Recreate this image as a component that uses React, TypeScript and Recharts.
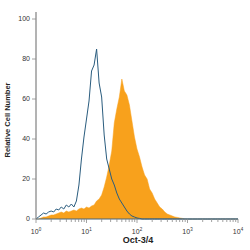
import React from "react";
import { ComposedChart, Area, Line, XAxis, YAxis } from "recharts";

// fluorescence bin centres (log spaced, 20 per decade)
const fluorescence = [
  1, 1.122, 1.259, 1.413, 1.585, 1.778, 1.995, 2.239, 2.512, 2.818, 3.162, 3.548, 3.981, 4.467, 5.012, 5.623, 6.31, 7.079, 7.943, 8.913,
  10, 11.22, 12.59, 14.13, 15.85, 17.78, 19.95, 22.39, 25.12, 28.18, 31.62, 35.48, 39.81, 44.67, 50.12, 56.23, 63.1, 70.79, 79.43, 89.13,
  100, 112.2, 125.9, 141.3, 158.5, 177.8, 199.5, 223.9, 251.2, 281.8, 316.2, 354.8, 398.1, 446.7, 501.2, 562.3, 631, 707.9, 794.3, 891.3,
  1000, 1122, 1259, 1413, 1585, 1778, 1995, 2239, 2512, 2818, 3162, 3548, 3981, 4467, 5012, 5623, 6310, 7079, 7943, 8913, 10000,
];

// isotype control (blue outline)
const isotypeCounts = [
  0, 1, 2, 3, 2.5, 3.5, 4, 3.5, 5, 4.5, 6, 5, 7, 6, 7.5, 6, 9, 17, 30, 41,
  50, 59, 74, 77, 85, 68, 61, 42, 30, 25, 20, 17, 13, 10, 8, 6, 4, 2.5, 1.5, 1,
  0.5, 0.3, 0, 0, 0, 0, 0, 0, 0, 0, 0, 0, 0, 0, 0, 0, 0, 0, 0, 0,
  0, 0, 0, 0, 0, 0, 0, 0, 0, 0, 0, 0, 0, 0, 0, 0, 0, 0, 0, 0, 0,
];

// Oct-3/4 stained (orange fill)
const oct34Counts = [
  0, 0, 0.5, 1, 1, 1.5, 2, 2, 2.5, 3, 3.5, 3, 4, 3.5, 4, 4.5, 4, 5, 5.5, 5,
  6, 5.5, 6.5, 7, 9, 10, 12, 16, 21, 27, 34, 48, 55, 61, 70, 64, 62, 57, 49, 41,
  35, 31, 26, 22, 20, 15, 13, 10, 8, 6, 5, 3.5, 2.5, 2, 1.5, 1, 0.8, 0.5, 0.3, 0,
  0, 0, 0, 0, 0, 0, 0, 0, 0, 0, 0, 0, 0, 0, 0, 0, 0, 0, 0, 0, 0,
];

const xTicks = [
  1, 2, 3, 4, 5, 6, 7, 8, 9,
  10, 20, 30, 40, 50, 60, 70, 80, 90,
  100, 200, 300, 400, 500, 600, 700, 800, 900,
  1000, 2000, 3000, 4000, 5000, 6000, 7000, 8000, 9000,
  10000,
];
const yTicks = [0, 20, 40, 60, 80, 100];

const data = fluorescence.map((f, i) => ({
  f,
  isotype: isotypeCounts[i],
  oct: oct34Counts[i],
}));

const font = "'Liberation Sans', Arial, sans-serif";

function LogTick(props: any) {
  const { x, y, payload } = props;
  const v = payload.value;
  const exp = Math.round(Math.log10(v));
  const major = Math.abs(Math.pow(10, exp) - v) < 1e-6;
  return (
    <g>
      <line x1={x} x2={x} y1={y} y2={y + (major ? 4 : 3)} stroke="#8a8a8a" strokeWidth={0.8} />
      {major && (
        <text x={x} y={y + 15} textAnchor="middle" fontSize={7} fontFamily={font} fill="#333">
          10<tspan dy={-3} fontSize={4.5}>{exp}</tspan>
        </text>
      )}
    </g>
  );
}

function YTitle(props: any) {
  const vb = props.viewBox;
  const cx = vb.x + 10;
  const cy = vb.y + vb.height / 2 + 4.5;
  return (
    <text
      transform={`translate(${cx},${cy}) rotate(-90)`}
      textAnchor="middle"
      fontSize={7.5}
      fontWeight="bold"
      fontFamily={font}
      fill="#222"
    >
      Relative Cell Number
    </text>
  );
}

function XTitle(props: any) {
  const vb = props.viewBox;
  return (
    <text
      x={vb.x + vb.width / 2 + 1}
      y={vb.y + 24}
      textAnchor="middle"
      fontSize={9}
      fontWeight="bold"
      fontFamily={font}
      fill="#222"
    >
      Oct-3/4
    </text>
  );
}

export default function App() {
  return (
    <div style={{ position: "absolute", left: 0, top: 0, width: 250, height: 250, background: "#fff" }}>
      <ComposedChart
        width={250}
        height={250}
        data={data}
        margin={{ top: 12, right: 12, bottom: 0, left: 0 }}
      >
        <XAxis
          dataKey="f"
          type="number"
          scale="log"
          domain={[1, 10000]}
          ticks={xTicks}
          interval={0}
          allowDataOverflow
          height={31}
          tickSize={0}
          tickMargin={0}
          tickLine={false}
          tick={<LogTick />}
          axisLine={{ stroke: "#46657a", strokeWidth: 1.2 }}
          label={XTitle}
        />
        <YAxis
          type="number"
          domain={[0, 103.5]}
          ticks={yTicks}
          width={36}
          tickSize={4}
          tickMargin={2}
          tickLine={{ stroke: "#8a8a8a", strokeWidth: 0.8 }}
          axisLine={{ stroke: "#8a8a8a", strokeWidth: 1.3 }}
          tick={{ fontSize: 7, fill: "#333", fontFamily: font }}
          label={YTitle}
        />
        <Area
          type="linear"
          dataKey="oct"
          stroke="#f8a11c"
          strokeWidth={0.5}
          fill="#f8a11c"
          fillOpacity={1}
          dot={false}
          activeDot={false}
          isAnimationActive={false}
        />
        <Line
          type="linear"
          dataKey="isotype"
          stroke="#2a5c7e"
          strokeWidth={1}
          dot={false}
          activeDot={false}
          isAnimationActive={false}
        />
      </ComposedChart>
    </div>
  );
}
